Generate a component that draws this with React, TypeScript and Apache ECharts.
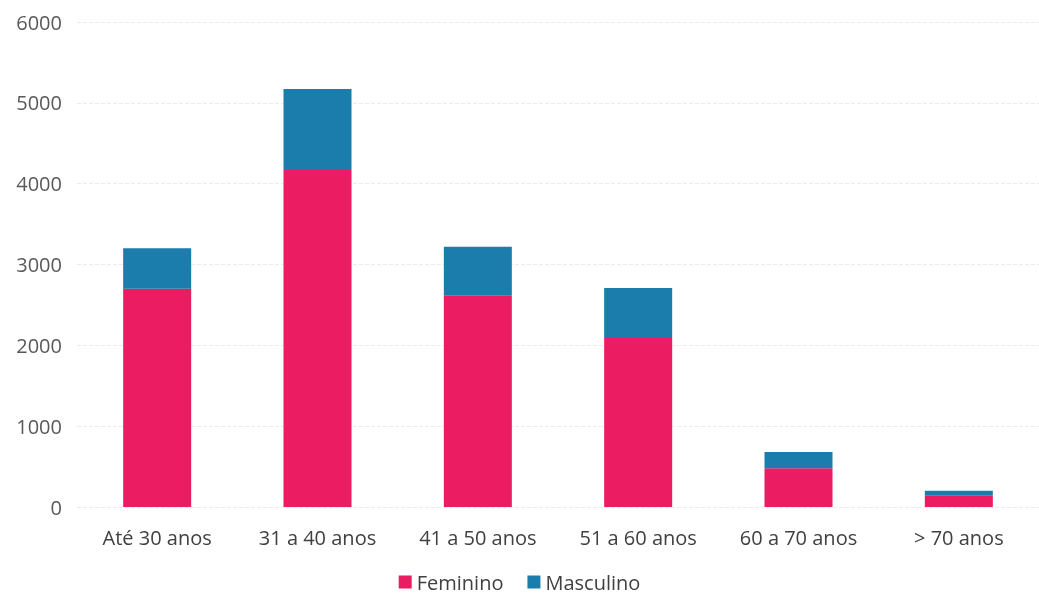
import React, { useEffect, useRef } from "react";
import * as echarts from "echarts";

const categories = ["Até 30 anos", "31 a 40 anos", "41 a 50 anos", "51 a 60 anos", "60 a 70 anos", "> 70 anos"];
const feminino = [2700, 4170, 2620, 2090, 480, 140];
const masculino = [500, 1000, 600, 620, 200, 60];
const yTicks = [0, 1000, 2000, 3000, 4000, 5000, 6000];

export default function App() {
  const ref = useRef<HTMLDivElement>(null);
  useEffect(() => {
    const chart = echarts.init(ref.current!, null, { renderer: "svg" });
    const font = "'Open Sans', sans-serif";
    chart.setOption({
      animation: false,
      textStyle: { fontFamily: font },
      grid: { left: 77, right: 0, top: 22, bottom: 93, containLabel: false },
      legend: {
        top: 572,
        left: "center",
        padding: 0,
        icon: "rect",
        itemWidth: 13,
        itemHeight: 13,
        itemGap: 24,
        textStyle: { fontSize: 20, color: "#404040", fontFamily: font },
        data: ["Feminino", "Masculino"],
      },
      xAxis: {
        type: "category",
        data: categories,
        axisLine: { show: false },
        axisTick: { show: false },
        axisLabel: { fontSize: 20, color: "#404040", margin: 20, fontFamily: font },
      },
      yAxis: {
        type: "value",
        min: yTicks[0],
        max: yTicks[yTicks.length - 1],
        interval: 1000,
        axisLine: { show: false },
        axisTick: { show: false },
        axisLabel: {
          fontSize: 20,
          color: "#595959",
          margin: 15,
          fontFamily: font,
          formatter: (v: number) => String(v),
        },
        splitLine: { lineStyle: { color: "#ececec", type: "dashed" } },
      },
      series: [
        {
          name: "Feminino",
          type: "bar",
          stack: "total",
          data: feminino,
          barWidth: 68,
          itemStyle: { color: "#EC1C63" },
        },
        {
          name: "Masculino",
          type: "bar",
          stack: "total",
          data: masculino,
          barWidth: 68,
          itemStyle: { color: "#1A7DAB" },
        },
      ],
    });
    return () => chart.dispose();
  }, []);
  return <div ref={ref} style={{ position: "fixed", left: 0, top: 0, width: 1039, height: 600 }} />;
}
